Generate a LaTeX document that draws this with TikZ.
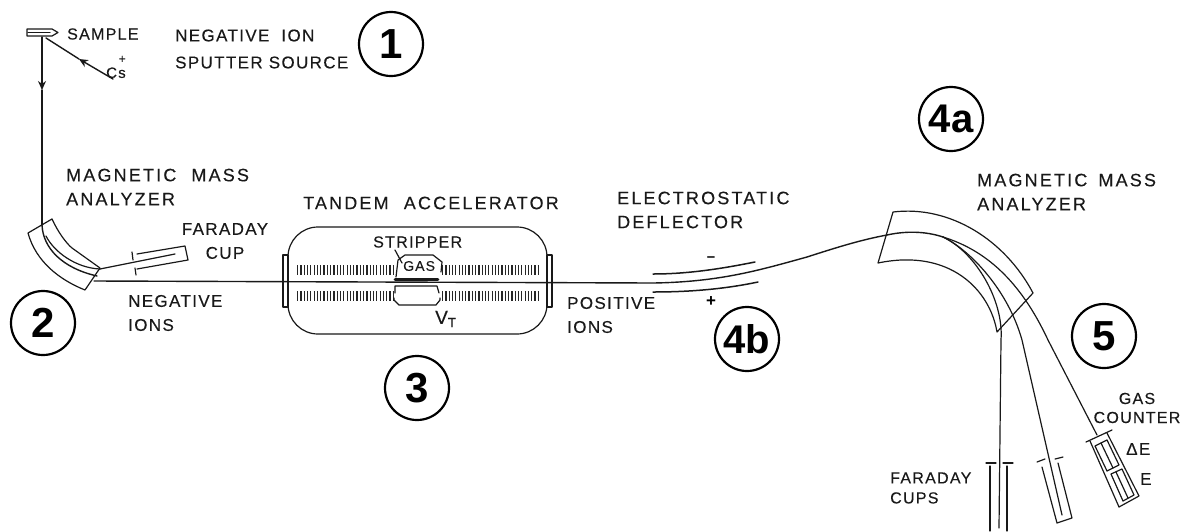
\documentclass[tikz,border=0pt]{standalone}
\usepackage{fontspec}
\setmainfont{Liberation Sans}
\newfontfamily\letterfont[LetterSpace=8,FakeBold=0.25]{Liberation Sans}
\newfontfamily\widefont[LetterSpace=12,FakeBold=0.25]{Liberation Sans}
\usetikzlibrary{positioning,arrows.meta}

\begin{document}
\begin{tikzpicture}[
  x=1pt, y=-1pt,
  inkline/.style={draw=black!90, line width=1.2pt, line cap=round, line join=round},
  beam/.style={inkline, line width=1.4pt},
  arrow/.style={beam, -{Stealth[length=9pt,width=8pt]}},
  tube/.style={draw=black!85, line width=10pt, dash pattern=on 1.2pt off 2.1pt},
  lettering/.style={font=\letterfont\fontsize{17}{24}\selectfont, text=black!90, align=left, inner sep=0pt, anchor=west},
  biglettering/.style={lettering, font=\widefont\fontsize{18}{24}\selectfont},
  stage/.style={circle, draw=black, line width=2.2pt, minimum size=64pt, inner sep=0pt, font=\bfseries\fontsize{42}{42}\selectfont}
  ]
  \useasboundingbox (0,0) rectangle (1187,531);

  % Source: sample, Cs beam and stage 1
  \node[lettering, font=\letterfont\fontsize{16}{20}\selectfont] (sample) at (67,34) {SAMPLE};
  \node[lettering, font=\letterfont\fontsize{15}{20}\selectfont] (cs) at (106,67) {Cs\llap{\raisebox{15pt}{\fontsize{12}{12}\selectfont +\kern0pt}}};
  \node[lettering, font=\letterfont\fontsize{17}{27}\selectfont] (source) at (175,49) {NEGATIVE\hspace{12pt}ION\\SPUTTER SOURCE};
  \node[stage] (s1) at (391,44) {1};
  \draw[inkline] (27,29) -- (52,29) -- (58,32.5) -- (52,36) -- (27,36) -- cycle;
  \draw[inkline] (28,32.5) -- (50,32.5);
  \coordinate (target) at (42,37);
  \coordinate (csend) at (113,79);
  \coordinate (csmid) at (79,59);
  \coordinate (hit) at (46,38);
  \coordinate (beammid) at (42,90);
  \coordinate (entry) at (42,225);
  \draw[arrow] (target) -- (beammid);
  \draw[beam] (beammid) -- (entry);
  \draw[arrow] (csend) -- (csmid);
  \draw[beam] (csmid) -- (hit);

  % First magnet, Faraday cup and stage 2
  \node[biglettering] (magnet1) at (66,187) {MAGNETIC \hspace{8pt}MASS\\ANALYZER};
  \node[lettering, align=center, anchor=center] (cup1) at (225,241) {FARADAY\\CUP};
  \node[lettering] (negions) at (128,313) {NEGATIVE\\IONS};
  \node[stage] (s2) at (43,323) {2};
  \draw[inkline] (28,233) -- (52,219) .. controls (58,232) and (66,243) .. (72,248)
    -- (100,268) -- (85,290) .. controls (60,280) and (36,262) .. (28,233);
  \coordinate (bend) at (97,276);
  \coordinate (split) at (94,281);
  \draw[beam] (entry) .. controls (43,248) and (62,268) .. (bend);
  \draw[inkline] (46,236) .. controls (54,252) and (76,268) .. (100,269);
  \draw[inkline] (100,269) -- (175,254);
  \draw[inkline] (137,254) -- (185,246) -- (188,260) -- (137,269);
  \draw[inkline] (132,252) -- (133,260);
  \draw[inkline] (135,268) -- (136,275);

  % Tandem accelerator and stage 3
  \node[biglettering] (tandem) at (303,203) {TANDEM \hspace{8pt}ACCELERATOR};
  \node[lettering, font=\letterfont\fontsize{16}{20}\selectfont] (stripper) at (373,242) {STRIPPER};
  \node[lettering, font=\letterfont\fontsize{14}{20}\selectfont] (gas) at (403,266) {GAS};
  \node[lettering, font=\letterfont\fontsize{19}{20}\selectfont] (vt) at (435,319) {V\textsubscript{T}};
  \node[stage] (s3) at (417,388) {3};
  \draw[inkline, rounded corners=30pt] (288,227) rectangle (547,334);
  \draw[inkline, fill=white] (283,255) rectangle (288,307);
  \draw[inkline, fill=white] (547,255) rectangle (552,307);
  \draw[tube] (297,270) -- (393,270);
  \draw[tube] (442,270) -- (538,270);
  \draw[tube] (297,296) -- (393,296);
  \draw[tube] (442,296) -- (538,296);
  \draw[inkline, line width=2.6pt] (395,279.5) -- (438,279.5);
  \draw[inkline] (396,277) -- (398,260) -- (405,255) -- (433,255) -- (442,262) -- (441,272);
  \draw[inkline] (395,250) -- (402,263);
  \draw[inkline] (395,293) -- (395,286) -- (437,286) -- (439,293);
  \draw[inkline] (394,298) -- (394,300) -- (399,305) -- (436,305) -- (440,300) -- (440,298);

  % Deflector and stage 4b
  \node[biglettering] (deflector) at (617,210) {ELECTROSTATIC\\DEFLECTOR};
  \node[lettering] (posions) at (567,315) {POSITIVE\\IONS};
  \node[stage, font=\bfseries\fontsize{40}{40}\selectfont] (s4b) at (747,339) {4b};
  \node[font=\bfseries\fontsize{15}{15}\selectfont, inner sep=0pt] (minus) at (711,259) {--};
  \node[font=\bfseries\fontsize{17}{17}\selectfont, inner sep=0pt] (plus) at (711,302) {+};
  \draw[inkline, line width=1.5pt] (653,274) .. controls (690,274) and (725,268) .. (755,262);
  \draw[inkline, line width=1.5pt] (653,292) .. controls (690,292) and (725,289) .. (758,282);
  \coordinate (turn) at (653,283);
  \coordinate (gate) at (887,235);
  \draw[beam] (split) -- (turn) .. controls (720,282) and (760,270) .. (807,257)
    .. controls (835,248) and (860,240) .. (gate);

  % Second magnet and stage 4a
  \node[biglettering] (magnet2) at (977,192) {MAGNETIC \hspace{4pt}MASS\\ANALYZER};
  \node[stage, font=\bfseries\fontsize{40}{40}\selectfont] (s4a) at (951,119) {4a};
  \draw[inkline] (893,212) .. controls (950,205) and (1005,240) .. (1033,293)
    -- (997,332) .. controls (990,290) and (950,248) .. (878,263) -- cycle;
  \coordinate (fork) at (943,237);
  \draw[beam] (gate) .. controls (905,231) and (925,231) .. (fork);

  % Three paths to the detectors
  \coordinate (cupa) at (999,528);
  \coordinate (cupb) at (1062,515);
  \coordinate (counter) at (1097,435);
  \draw[inkline] (fork) .. controls (975,252) and (1004,300) .. (1001,340) -- (cupa);
  \draw[inkline] (fork) .. controls (970,250) and (1008,290) .. (1022,340) -- (cupb);
  \draw[inkline] (fork) .. controls (985,250) and (1020,280) .. (1048,340) -- (counter);

  % Faraday cups
  \node[lettering, font=\letterfont\fontsize{16}{20}\selectfont] (cups) at (890,488) {FARADAY\\CUPS};
  \draw[inkline] (986,463) -- (996,463);
  \draw[inkline] (1003,463) -- (1013,463);
  \draw[inkline] (990,466) -- (990,531);
  \draw[inkline] (1007,466) -- (1007,531);
  \draw[inkline] (1037,462) -- (1045,459);
  \draw[inkline] (1055,459) -- (1063,457);
  \draw[inkline] (1042,467) -- (1057,523) -- (1072,518) -- (1058,463);

  % Gas counter and stage 5
  \node[stage] (s5) at (1104,336) {5};
  \node[lettering, align=center, anchor=center, font=\letterfont\fontsize{16}{19}\selectfont] (gascounter) at (1137,408) {GAS\\COUNTER};
  \node[lettering] (de) at (1126,449) {ΔE};
  \node[lettering] (e) at (1140,479) {E};
  \draw[inkline] (1086,442) -- (1112,430);
  \draw[inkline] (1090,441) -- (1119,507) -- (1139,496) -- (1107,433);
  \draw[inkline] (1095,446) -- (1107,440) -- (1119,465) -- (1107,471) -- cycle;
  \draw[inkline] (1101,443) -- (1113,468);
  \draw[inkline] (1111,474) -- (1122,469) -- (1134,495) -- (1123,501) -- cycle;
  \draw[inkline] (1116,472) -- (1128,498);
\end{tikzpicture}
\end{document}
